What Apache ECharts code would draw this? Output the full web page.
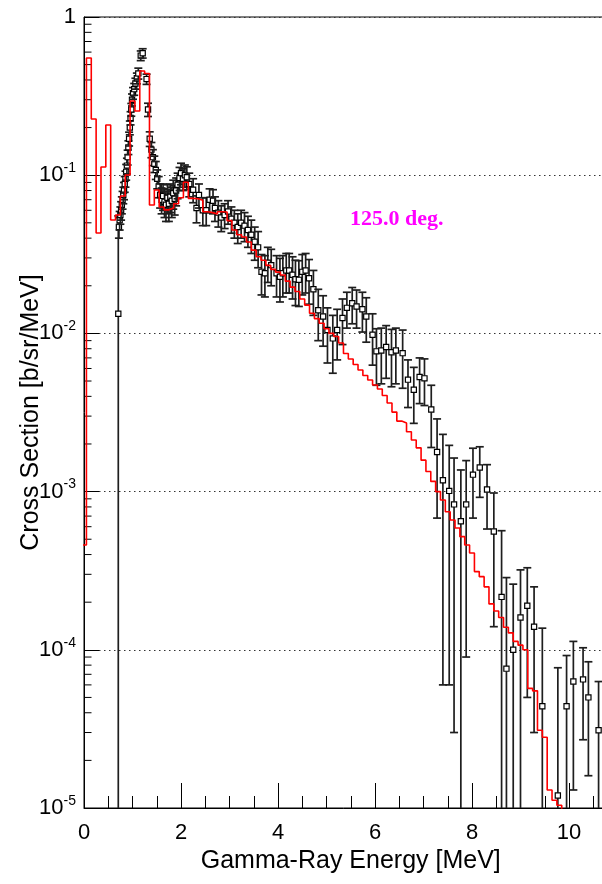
<!DOCTYPE html>
<html>
<head>
<meta charset="utf-8">
<script src="https://cdn.jsdelivr.net/npm/echarts@6/dist/echarts.min.js"></script>
<style>
html,body{margin:0;padding:0;background:#fff;}
#chart{width:602px;height:884px;}
</style>
</head>
<body>
<div id="chart"></div>
<script>
// ---------------- data ----------------
const X_MIN = 0, X_MAX = 11, Y_MIN = 1e-5, Y_MAX = 1;
const xTickLabels = ['0', '2', '4', '6', '8', '10'];
const yTickExponents = [-5, -4, -3, -2, -1, 0];
const yMinorMantissas = [2, 3, 4, 5, 6, 7, 8, 9];

// calculation histogram (red), bins of fixed width starting at calcBinStart
const calcBinStart = -0.05;
const calcBinWidth = 0.1;
const calcValues = [
  0.00046, 0.551, 0.2265, 0.0431, 0.1127, 0.2077, 0.0521, 0.056, 0.0739, 0.1003,
  0.2944, 0.2544, 0.4557, 0.4394, 0.0648, 0.0806, 0.063, 0.0604, 0.062, 0.066,
  0.072, 0.0902, 0.0714, 0.071, 0.0694, 0.0588, 0.058, 0.0569, 0.0588, 0.0585,
  0.0516, 0.045, 0.042, 0.0407, 0.0378, 0.0336, 0.0305, 0.029, 0.0269, 0.0254,
  0.0244, 0.0234, 0.0214, 0.0196, 0.0184, 0.0165, 0.0151, 0.0134, 0.0124, 0.0116,
  0.0107, 0.0100, 0.00956, 0.0087, 0.00746, 0.00689, 0.00636, 0.00587, 0.00542, 0.00507,
  0.00472, 0.00445, 0.00405, 0.00363, 0.00318, 0.00279, 0.00271, 0.00239, 0.00212, 0.00189,
  0.00158, 0.00134, 0.00116, 0.00100, 0.000885, 0.000746, 0.000661, 0.000589, 0.000519, 0.00046,
  0.000409, 0.000312, 0.00029, 0.00025, 0.000195, 0.000176, 0.00016, 0.000139, 0.000128, 0.000113,
  0.000107, 0.0001, 0.000057, 0.000055, 0.000031, 0.000028, 0.000013, 0.0000112, 0.0000104, 0.000006
];

// experimental points (black): energy [MeV], cross section, error
const expEnergy = [
  0.707, 0.72, 0.735, 0.75, 0.765, 0.78, 0.795, 0.81, 0.825, 0.84,
  0.855, 0.87, 0.885, 0.90, 0.915, 0.93, 0.945, 0.96, 0.975, 0.99,
  1.01, 1.035, 1.06, 1.09, 1.12, 1.17, 1.21, 1.29, 1.32, 1.355,
  1.39, 1.42, 1.45, 1.48, 1.51, 1.54, 1.57, 1.60, 1.63, 1.66,
  1.69, 1.72, 1.75, 1.78, 1.81, 1.84, 1.87, 1.90, 1.93, 1.97,
  2.00, 2.04, 2.08, 2.12, 2.17, 2.25, 2.32, 2.37, 2.45, 2.52,
  2.59, 2.66, 2.70, 2.77, 2.83, 2.90, 2.97, 3.04, 3.10, 3.17,
  3.24, 3.31, 3.38, 3.45, 3.52, 3.59, 3.66, 3.73, 3.79, 3.86,
  3.97, 4.04, 4.10, 4.17, 4.23, 4.30, 4.36, 4.43, 4.50, 4.57,
  4.64, 4.73, 4.83, 4.93, 5.02, 5.13, 5.22, 5.33, 5.42, 5.53,
  5.62, 5.74, 5.82, 5.95, 6.03, 6.13, 6.23, 6.34, 6.43, 6.57,
  6.68, 6.80, 6.92, 7.02, 7.16, 7.28, 7.40, 7.53, 7.63, 7.77,
  7.88, 8.02, 8.16, 8.31, 8.45, 8.61, 8.71, 8.85, 9.00, 9.14,
  9.28, 9.45, 9.77, 9.95, 10.09, 10.29, 10.40, 10.61
];
const expValue = [
  0.0133, 0.047, 0.052, 0.056, 0.06, 0.065, 0.07, 0.075, 0.08, 0.088,
  0.095, 0.105, 0.115, 0.13, 0.15, 0.17, 0.2, 0.23, 0.26, 0.3,
  0.33, 0.35, 0.38, 0.41, 0.44, 0.57, 0.59, 0.405, 0.26, 0.17,
  0.145, 0.13, 0.118, 0.108, 0.095, 0.085, 0.075, 0.07, 0.074, 0.068,
  0.065, 0.072, 0.066, 0.073, 0.069, 0.077, 0.071, 0.08, 0.087, 0.096,
  0.103, 0.095, 0.1, 0.097, 0.088, 0.081, 0.062, 0.075, 0.06, 0.06,
  0.07, 0.069, 0.062, 0.058, 0.054, 0.056, 0.059, 0.053, 0.05, 0.047,
  0.05, 0.048, 0.045, 0.042, 0.038, 0.035, 0.0245, 0.024, 0.028, 0.027,
  0.024, 0.0228, 0.024, 0.025, 0.025, 0.0235, 0.022, 0.0218, 0.0245, 0.025,
  0.0223, 0.019, 0.014, 0.0128, 0.0105, 0.0093, 0.0105, 0.0125, 0.0145, 0.0155,
  0.0148, 0.0142, 0.0128, 0.0098, 0.0077, 0.0078, 0.0082, 0.0076, 0.0078, 0.0075,
  0.0051, 0.0044, 0.0053, 0.0052, 0.0033, 0.00178, 0.00118, 0.00101, 0.00083, 0.00065,
  0.00083, 0.00128, 0.00142, 0.00103, 0.00056, 0.000216, 0.000076, 0.0001, 0.00016, 0.00019,
  0.00014, 0.000044, 0.000012, 0.000044, 0.000063, 0.000065, 0.00005, 0.000031
];
const expError = [
  0.042, 0.007, 0.007, 0.007, 0.008, 0.008, 0.009, 0.009, 0.01, 0.01,
  0.011, 0.012, 0.013, 0.014, 0.015, 0.017, 0.02, 0.022, 0.024, 0.026,
  0.028, 0.03, 0.03, 0.032, 0.035, 0.04, 0.04, 0.03, 0.025, 0.018,
  0.016, 0.015, 0.014, 0.014, 0.013, 0.013, 0.013, 0.013, 0.014, 0.014,
  0.014, 0.015, 0.015, 0.015, 0.015, 0.016, 0.015, 0.016, 0.016, 0.016,
  0.016, 0.015, 0.016, 0.016, 0.015, 0.014, 0.012, 0.013, 0.012, 0.012,
  0.012, 0.012, 0.011, 0.011, 0.01, 0.01, 0.01, 0.01, 0.01, 0.01,
  0.01, 0.01, 0.01, 0.01, 0.009, 0.009, 0.007, 0.007, 0.007, 0.007,
  0.007, 0.007, 0.007, 0.007, 0.007, 0.007, 0.007, 0.007, 0.007, 0.007,
  0.007, 0.006, 0.005, 0.0045, 0.004, 0.0037, 0.0037, 0.004, 0.0037, 0.004,
  0.004, 0.004, 0.004, 0.0035, 0.003, 0.003, 0.003, 0.003, 0.003, 0.003,
  0.0017, 0.0017, 0.0017, 0.0017, 0.0014, 0.0011, 0.00112, 0.00095, 0.0008, 0.00072,
  0.00074, 0.0006, 0.0005, 0.00045, 0.00042, 0.00035, 0.00021, 0.00016, 0.00016, 0.00014,
  0.00011, 0.000093, 0.000065, 0.000048, 0.00005, 0.000038, 0.000034, 0.000032
];
const annotationText = '125.0 deg.';

// ---------------- build series data ----------------
const calcData = calcValues.map((v, i) => [calcBinStart + i * calcBinWidth, v]);
calcData.push([calcBinStart + calcValues.length * calcBinWidth, calcValues[calcValues.length - 1]]);

const expData = expEnergy.map((e, i) => [e, expValue[i], expError[i]]);

const yMinorTicks = [];
yTickExponents.slice(0, -1).forEach(e => {
  yMinorMantissas.forEach(m => yMinorTicks.push([X_MIN, m * Math.pow(10, e)]));
});

const FONT = '"Liberation Sans", Arial, sans-serif';

function renderExp(params, api) {
  const x = api.value(0), v = api.value(1), s = api.value(2);
  const hi = v + s, lo = v - s;
  const bottomAxis = api.coord([x, Y_MIN])[1];
  const c = api.coord([x, Math.max(v, Y_MIN * 1e-3)]);
  const top = api.coord([x, hi])[1];
  const hasLow = lo > Y_MIN;
  const bottom = hasLow ? api.coord([x, lo])[1] : bottomAxis + 2;
  const half = 2.6, cap = 4;
  const st = { stroke: '#1e1e1e', lineWidth: 1.7 };
  const ch = [];
  const up2 = Math.min(c[1] - half, bottom);
  if (up2 > top) ch.push({ type: 'line', shape: { x1: c[0], y1: top, x2: c[0], y2: up2 }, style: st });
  if (c[1] + half < bottom) ch.push({ type: 'line', shape: { x1: c[0], y1: c[1] + half, x2: c[0], y2: bottom }, style: st });
  ch.push({ type: 'line', shape: { x1: c[0] - cap, y1: top, x2: c[0] + cap, y2: top }, style: st });
  if (hasLow) ch.push({ type: 'line', shape: { x1: c[0] - cap, y1: bottom, x2: c[0] + cap, y2: bottom }, style: st });
  ch.push({ type: 'rect', shape: { x: c[0] - half, y: c[1] - half, width: 2 * half, height: 2 * half },
            style: { fill: '#fff', stroke: '#000', lineWidth: 1.2 } });
  return { type: 'group', children: ch };
}

function renderMinorTick(params, api) {
  const p = api.coord([api.value(0), api.value(1)]);
  return { type: 'line', shape: { x1: p[0], y1: p[1], x2: p[0] + 7.5, y2: p[1] },
           style: { stroke: '#000', lineWidth: 1 } };
}

const chart = echarts.init(document.getElementById('chart'), null, { renderer: 'canvas' });
chart.setOption({
  animation: false,
  backgroundColor: '#fff',
  grid: {
    left: 84, top: 17, width: 533.5, height: 791,
    containLabel: false, outerBoundsMode: 'none',
    show: true, borderColor: '#000', borderWidth: 1, backgroundColor: 'transparent'
  },
  xAxis: {
    type: 'value', min: X_MIN, max: X_MAX, interval: 2,
    name: 'Gamma-Ray Energy [MeV]', nameLocation: 'middle', nameGap: 41, nameMoveOverlap: false,
    nameTextStyle: { fontFamily: FONT, fontSize: 25, color: '#000' },
    axisLine: { show: true, lineStyle: { color: '#000', width: 1 } },
    axisTick: { show: true, inside: true, length: 25, lineStyle: { color: '#000', width: 1 } },
    minorTick: { show: true, splitNumber: 4, length: 12, lineStyle: { color: '#000', width: 1 } },
    splitLine: { show: false },
    axisLabel: {
      fontFamily: FONT, fontSize: 22, color: '#000', margin: 14,
      formatter: v => { const s = String(Math.round(v)); return (Math.abs(v - Math.round(v)) < 1e-9 && xTickLabels.includes(s)) ? s : ''; }
    }
  },
  yAxis: {
    type: 'log', logBase: 10, min: Y_MIN, max: Y_MAX,
    name: 'Cross Section [b/sr/MeV]', nameLocation: 'middle', nameGap: 40, nameRotate: 90, nameMoveOverlap: false,
    nameTextStyle: { fontFamily: FONT, fontSize: 25, color: '#000' },
    axisLine: { show: true, lineStyle: { color: '#000', width: 1 } },
    axisTick: { show: true, inside: true, length: 15, lineStyle: { color: '#000', width: 1 } },
    minorTick: { show: false },
    splitLine: { show: true, lineStyle: { color: '#333', width: 1, type: [1.5, 3.5] } },
    axisLabel: {
      fontFamily: FONT, color: '#000', margin: 8,
      formatter: v => {
        const e = Math.round(Math.log10(v));
        if (!yTickExponents.includes(e)) return '';
        return e === 0 ? '{b|1}' : '{b|10}{s|' + e + '}';
      },
      rich: {
        b: { fontFamily: FONT, fontSize: 22, color: '#000' },
        s: { fontFamily: FONT, fontSize: 14, color: '#000', padding: [0, 0, 14, 0] }
      }
    }
  },
  graphic: [{
    type: 'text', left: 350, top: 208, silent: true,
    style: { text: annotationText, fill: '#ff00ff', font: 'bold 22px "Liberation Serif", "Times New Roman", serif' }
  }],
  series: [
    {
      type: 'custom', name: 'minorTicks', renderItem: renderMinorTick, data: yMinorTicks,
      clip: false, silent: true, z: 3
    },
    {
      type: 'custom', name: 'experiment', renderItem: renderExp, data: expData,
      clip: true, z: 4, encode: { x: 0, y: 1 }
    },
    {
      type: 'line', name: 'calculation', data: calcData, step: 'end',
      showSymbol: false, symbol: 'none', clip: true, z: 5,
      lineStyle: { color: '#ff0000', width: 1.6 }
    }
  ]
});
</script>
</body>
</html>
